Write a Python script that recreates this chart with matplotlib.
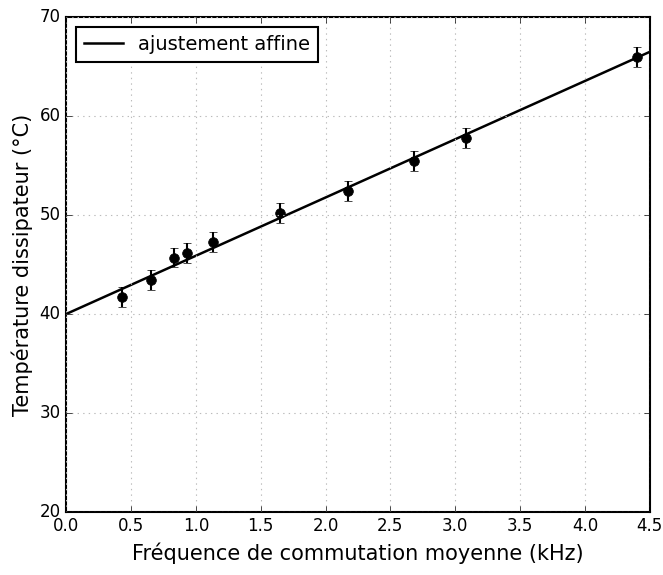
import matplotlib
matplotlib.use("Agg")
import matplotlib.pyplot as plt

plt.style.use('classic')

freq_khz = [0.43, 0.65, 0.83, 0.93, 1.13, 1.65, 2.17, 2.68, 3.08, 4.40]
temp_c = [41.7, 43.4, 45.7, 46.2, 47.3, 50.2, 52.4, 55.5, 57.8, 66.0]
temp_err = [1.0, 1.0, 1.0, 1.0, 1.0, 1.0, 1.0, 1.0, 1.0, 1.0]

# affine fit endpoints
fit_x = [0.0, 4.5]
fit_y = [40.0, 66.5]

x_ticks = [0.0, 0.5, 1.0, 1.5, 2.0, 2.5, 3.0, 3.5, 4.0, 4.5]
y_ticks = [20, 30, 40, 50, 60, 70]

fig = plt.figure(figsize=(6.63, 5.75), dpi=100, facecolor='white')
ax = fig.add_axes([0.10, 0.11, 0.88, 0.86])

ax.plot(fit_x, fit_y, color='black', lw=1.8, label='ajustement affine')
ax.errorbar(freq_khz, temp_c, yerr=temp_err, fmt='o', color='black',
            ms=7, capsize=3, elinewidth=1.5)

ax.set_xlim(0, 4.5)
ax.set_ylim(20, 70)
ax.set_xticks(x_ticks)
ax.set_yticks(y_ticks)
ax.tick_params(labelsize=12)
ax.grid(True, color='#bbbbbb', linestyle=':', lw=0.8)
for side in ax.spines.values():
    side.set_linewidth(1.5)

ax.set_xlabel('Fréquence de commutation moyenne (kHz)', fontsize=15)
ax.set_ylabel('Température dissipateur (°C)', fontsize=15)

leg = ax.legend(loc='upper left', fontsize=14, numpoints=1)
leg.get_frame().set_linewidth(1.5)

plt.savefig('out.png', dpi=100, facecolor='white')
